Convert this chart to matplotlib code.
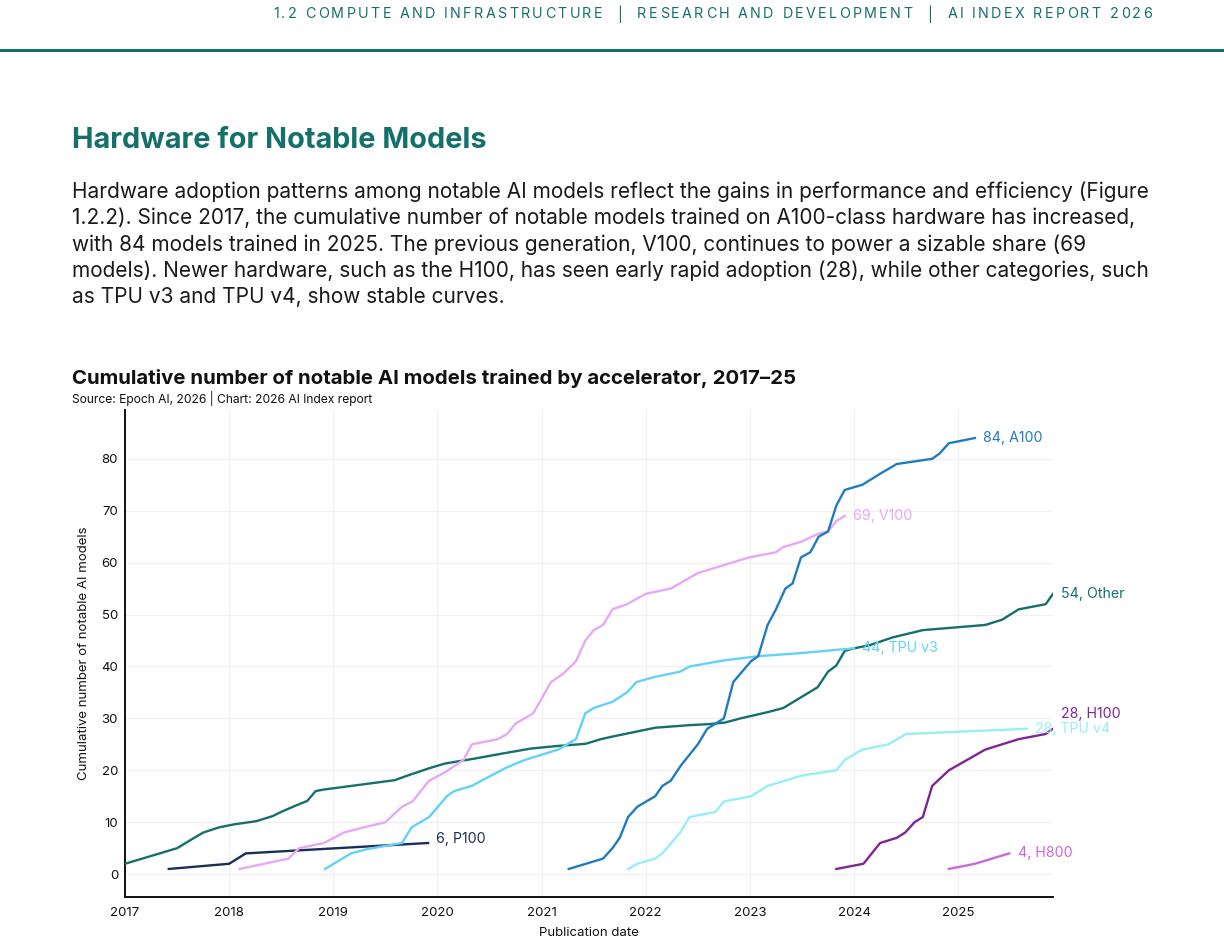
import matplotlib.pyplot as plt

# data: (publication date as decimal year, cumulative count)
other_x = [2017.0, 2017.5, 2017.64, 2017.75, 2017.9, 2018.05, 2018.26, 2018.42, 2018.5, 2018.65,
           2018.75, 2018.83, 2018.91, 2019.25, 2019.59, 2019.7, 2019.92, 2020.07, 2020.34, 2020.67,
           2020.9, 2021.16, 2021.42, 2021.57, 2021.68, 2022.09, 2022.42, 2022.61, 2022.76, 2022.91,
           2023.17, 2023.32, 2023.51, 2023.65, 2023.75, 2023.83, 2023.91, 2024.0, 2024.15, 2024.37,
           2024.66, 2025.26, 2025.42, 2025.58, 2025.84, 2025.91]
other_y = [2, 5, 6.7, 8, 9, 9.6, 10.2, 11.2, 12, 13.3,
           14.1, 16, 16.3, 17.2, 18.1, 18.9, 20.4, 21.3, 22.2, 23.4,
           24.2, 24.7, 25.1, 26, 26.5, 28.2, 28.7, 28.9, 29.2, 30,
           31.2, 32, 34.3, 36, 39, 40.2, 43, 43.5, 44.1, 45.6,
           47, 48, 49, 51, 52, 54]

p100_x = [2017.42, 2018.0, 2018.16, 2019.91]
p100_y = [1, 2, 4, 6]

v100_x = [2018.1, 2018.57, 2018.67, 2018.91, 2019.1, 2019.29, 2019.5, 2019.66, 2019.76, 2019.92,
          2020.07, 2020.25, 2020.33, 2020.58, 2020.67, 2020.75, 2020.92, 2021.09, 2021.2, 2021.33,
          2021.42, 2021.5, 2021.59, 2021.68, 2021.82, 2022.0, 2022.24, 2022.5, 2022.99, 2023.25,
          2023.32, 2023.49, 2023.66, 2023.75, 2023.83, 2023.91]
v100_y = [1, 3, 5, 6, 8, 9, 10, 13, 14, 18,
          19.6, 22, 25, 26, 27, 29, 31, 37, 38.5, 41,
          45, 47, 48, 51, 52, 54, 55, 58, 61, 62,
          63, 64, 65.6, 66, 68, 69]

tpuv3_x = [2018.92, 2019.17, 2019.32, 2019.49, 2019.66, 2019.75, 2019.92, 2020.09, 2020.16, 2020.33,
           2020.45, 2020.67, 2020.84, 2021.16, 2021.33, 2021.42, 2021.5, 2021.68, 2021.82, 2021.91,
           2022.09, 2022.33, 2022.42, 2022.76, 2023.09, 2023.5, 2024.0]
tpuv3_y = [1, 4, 4.8, 5.4, 6, 9, 11, 15, 16, 17,
           18.3, 20.6, 22, 24, 26, 31, 32, 33.2, 35, 37,
           38, 39, 40, 41.2, 42, 42.6, 43.5]

a100_x = [2021.26, 2021.59, 2021.68, 2021.75, 2021.83, 2021.92, 2022.09, 2022.16, 2022.24, 2022.34,
          2022.5, 2022.59, 2022.75, 2022.84, 2023.01, 2023.08, 2023.17, 2023.25, 2023.34, 2023.41,
          2023.49, 2023.58, 2023.66, 2023.75, 2023.83, 2023.91, 2024.08, 2024.24, 2024.41, 2024.75,
          2024.82, 2024.91, 2025.16]
a100_y = [1, 3, 5, 7, 11, 13, 15, 17, 18, 21,
          25, 28, 30, 37, 41, 42, 48, 51, 55, 56,
          61, 62, 65, 66, 71, 74, 75, 77, 79, 80,
          81, 83, 84]

tpuv4_x = [2021.83, 2021.92, 2022.09, 2022.16, 2022.33, 2022.42, 2022.67, 2022.75, 2023.01, 2023.17,
           2023.5, 2023.83, 2023.91, 2024.08, 2024.33, 2024.5, 2025.66]
tpuv4_y = [1, 2, 3, 4, 8, 11, 12, 14, 15, 17,
           19, 20, 22, 24, 25, 27, 28]

h100_x = [2023.83, 2024.09, 2024.25, 2024.41, 2024.49, 2024.58, 2024.66, 2024.75, 2024.91, 2025.26,
          2025.58, 2025.84, 2025.91]
h100_y = [1, 2, 6, 7, 8, 10, 11, 17, 20, 24,
          26, 27, 28]

h800_x = [2024.91, 2025.16, 2025.49]
h800_y = [1, 2, 4]

series = [
    ("Other", other_x, other_y, "#15706a", 54, (6, 0)),
    ("P100", p100_x, p100_y, "#1c2d5a", 6, (6, 3)),
    ("V100", v100_x, v100_y, "#e6a8f7", 69, (6, 0)),
    ("TPU v3", tpuv3_x, tpuv3_y, "#62d2f6", 44, (6, 0)),
    ("A100", a100_x, a100_y, "#1f7cc1", 84, (6, 0)),
    ("TPU v4", tpuv4_x, tpuv4_y, "#95eff3", 28, (6, 0)),
    ("H100", h100_x, h100_y, "#7d2795", 28, (6, 11)),
    ("H800", h800_x, h800_y, "#cc66dd", 4, (6, 0)),
]

teal = "#15706a"
W, H = 1224, 952
plt.rcParams['font.family'] = ['Inter', 'DejaVu Sans']

fig = plt.figure(figsize=(W / 100, H / 100), dpi=100)
renderer = fig.canvas.get_renderer()

# page header, letter-spaced: place characters one by one
header = "1.2 COMPUTE AND INFRASTRUCTURE  |  RESEARCH AND DEVELOPMENT  |  AI INDEX REPORT 2026"
hx0, hx1 = 273, 1152
chars = []
for ch in header:
    t = fig.text(0, 1 - 14 / H, ch, fontsize=10.3, color=teal, va="center", ha="left")
    w = t.get_window_extent(renderer).width if ch != " " else 4.0
    chars.append((t, w))
total = sum(w for _, w in chars)
track = (hx1 - hx0 - total) / (len(chars) - 1)
x = hx0
for t, w in chars:
    t.set_x(x / W)
    x += w + track
fig.add_artist(plt.Line2D([0, 1], [1 - 50 / H, 1 - 50 / H], color=teal, lw=2.2))

fig.text(72 / W, 1 - 141 / H, "Hardware for Notable Models", fontsize=20.8, fontweight="bold",
         color=teal, va="center")

para = [
    "Hardware adoption patterns among notable AI models reflect the gains in performance and efficiency (Figure",
    "1.2.2). Since 2017, the cumulative number of notable models trained on A100-class hardware has increased,",
    "with 84 models trained in 2025. The previous generation, V100, continues to power a sizable share (69",
    "models). Newer hardware, such as the H100, has seen early rapid adoption (28), while other categories, such",
    "as TPU v3 and TPU v4, show stable curves.",
]
for i, line in enumerate(para):
    fig.text(72 / W, 1 - (192 + i * 26.2) / H, line, fontsize=15, color="#1a1a1a", va="center")

fig.text(72 / W, 1 - 379 / H, "Cumulative number of notable AI models trained by accelerator, 2017–25",
         fontsize=14.7, fontweight="bold", color="#111111", va="center")
fig.text(72 / W, 1 - 398 / H, "Source: Epoch AI, 2026 | Chart: 2026 AI Index report",
         fontsize=8.7, color="#111111", va="center")

ax = fig.add_axes([125 / W, 1 - 897 / H, (1053 - 125) / W, (897 - 410) / H])

for name, xs, ys, col, last, off in series:
    ax.plot(xs, ys, color=col, lw=1.7, solid_joinstyle="round", zorder=3)
    ax.annotate(f"{last}, {name}", (xs[-1], ys[-1]), xytext=off, textcoords="offset points",
                color=col, fontsize=10.2, va="center", ha="left", annotation_clip=False, zorder=4)

ax.set_xlim(2017, 2025.91)
ax.set_ylim(-4.4, 89.4)
ax.set_xticks(range(2017, 2026))
ax.set_yticks(range(0, 81, 10))
ax.grid(True, color="#f0f0f0", lw=0.9)
ax.set_axisbelow(True)
ax.tick_params(length=0, labelsize=9.5, colors="#111111")
ax.tick_params(axis="x", pad=7)
ax.tick_params(axis="y", pad=5)
for s in ["top", "right"]:
    ax.spines[s].set_visible(False)
for s in ["left", "bottom"]:
    ax.spines[s].set_color("#111111")
    ax.spines[s].set_linewidth(1.4)
ax.set_xlabel("Publication date", fontsize=9.5, color="#111111", labelpad=6)
ax.set_ylabel("Cumulative number of notable AI models", fontsize=9.5, color="#111111", labelpad=8)

fig.savefig("out.png", dpi=100)
